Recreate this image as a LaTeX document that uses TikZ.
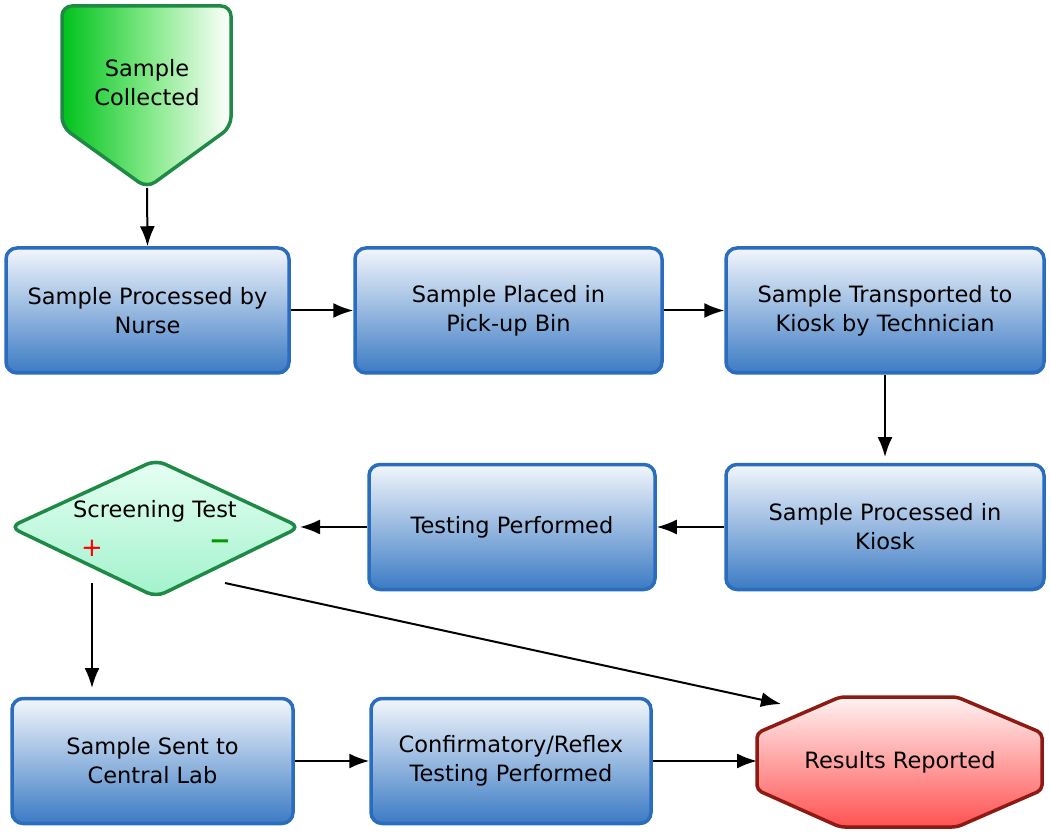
\documentclass[tikz,border=0pt]{standalone}
\usepackage{fontspec}
\setmainfont{DejaVu Sans}
\usetikzlibrary{arrows.meta}
\definecolor{boxborder}{HTML}{2A6CBE}
\definecolor{boxtop}{HTML}{F2F6FC}
\definecolor{boxbot}{HTML}{3C7BC4}
\definecolor{grborder}{HTML}{1E8A45}
\definecolor{redborder}{HTML}{8E1A14}
\definecolor{mintop}{HTML}{E6FFF3}
\definecolor{minbot}{HTML}{A2F2CC}
\definecolor{grleft}{HTML}{00C21C}
\definecolor{grmid}{HTML}{7EE884}
\begin{document}
\begin{tikzpicture}[x=1pt,y=-1pt,
  every node/.style={font=\fontsize{22.5}{29}\selectfont, align=center, text=black},
  procbox/.style={draw=boxborder, line width=3.5pt, rounded corners=11pt,
    top color=boxtop, bottom color=boxbot, inner sep=0pt},
  flow/.style={-{Latex[length=20pt,width=15pt]}, line width=2pt, black},
  label/.style={inner sep=0pt}]
\useasboundingbox (0,0) rectangle (1050,834);

% process boxes (centre, width, height)
\node[procbox, minimum width=283pt, minimum height=125pt] (nurse) at (147.5,310.5) {Sample Processed by\\Nurse};
\node[procbox, minimum width=307pt, minimum height=125pt] (bin) at (508.5,310.5) {Sample Placed in\\Pick-up Bin};
\node[procbox, minimum width=318pt, minimum height=125pt] (trans) at (885,310.5) {Sample Transported to\\Kiosk by Technician};
\node[procbox, minimum width=318pt, minimum height=125pt] (kiosk) at (885,527) {Sample Processed in\\Kiosk};
\node[procbox, minimum width=286pt, minimum height=125pt] (testing) at (512,527) {Testing Performed};
\node[procbox, minimum width=281pt, minimum height=125pt] (central) at (152.5,761) {Sample Sent to\\Central Lab};
\node[procbox, minimum width=280pt, minimum height=125pt] (confirm) at (511,761) {Confirmatory/Reflex\\Testing Performed};

% start pentagon
\path[left color=grleft, right color=white, middle color=grmid]
  [rounded corners=10pt] (62,6) -- (231,6) -- (231,127) -- (147,188) -- (62,127) -- cycle;
\draw[grborder, line width=3.5pt, rounded corners=10pt]
  (62,6) -- (231,6) -- (231,127) -- (147,188) -- (62,127) -- cycle;
\node[label] (collected) at (147,83) {Sample\\Collected};
\coordinate (collectedtip) at (147,188);

% decision diamond
\path[top color=mintop, bottom color=minbot, rounded corners=10pt]
  (10,527) -- (156,460) -- (300,527) -- (156,597) -- cycle;
\draw[grborder, line width=3.5pt, rounded corners=10pt]
  (10,527) -- (156,460) -- (300,527) -- (156,597) -- cycle;
\node[label] (screen) at (155,511) {Screening Test};
\node[label, text=red, font=\fontsize{26}{26}\selectfont] (plus) at (92,548) {+};
\node[label, text=green!60!black, font=\fontsize{26}{26}\selectfont\bfseries] (minus) at (220,545) {−};
\coordinate (screenright) at (300,527);
\coordinate (plusout) at (92,583);
\coordinate (minusout) at (225,583);

% results octagon
\path[top color=red!5!white, bottom color=red!68!white, rounded corners=5pt]
  (840,697) -- (957,697) -- (1042,733) -- (1042,790) -- (957,827) -- (840,827) -- (757,790) -- (757,733) -- cycle;
\draw[redborder, line width=3.5pt, rounded corners=5pt]
  (840,697) -- (957,697) -- (1042,733) -- (1042,790) -- (957,827) -- (840,827) -- (757,790) -- (757,733) -- cycle;
\node[label] (results) at (900,762) {Results Reported};
\coordinate (resultsleft) at (757,761);
\coordinate (resultsnear) at (781,704);
\coordinate (kiosknear) at (885,457);
\coordinate (centralnear) at (92,688);

% connectors
\draw[flow] (collectedtip) -- (nurse.north);
\draw[flow] (nurse.east) -- (bin.west);
\draw[flow] (bin.east) -- (trans.west);
\draw[flow] (trans.south) -- (kiosknear);
\draw[flow] (kiosk.west) -- (testing.east);
\draw[flow] (testing.west) -- (screenright);
\draw[flow] (plusout) -- (centralnear);
\draw[flow] (minusout) -- (resultsnear);
\draw[flow] (central.east) -- (confirm.west);
\draw[flow] (confirm.east) -- (resultsleft);
\end{tikzpicture}
\end{document}
